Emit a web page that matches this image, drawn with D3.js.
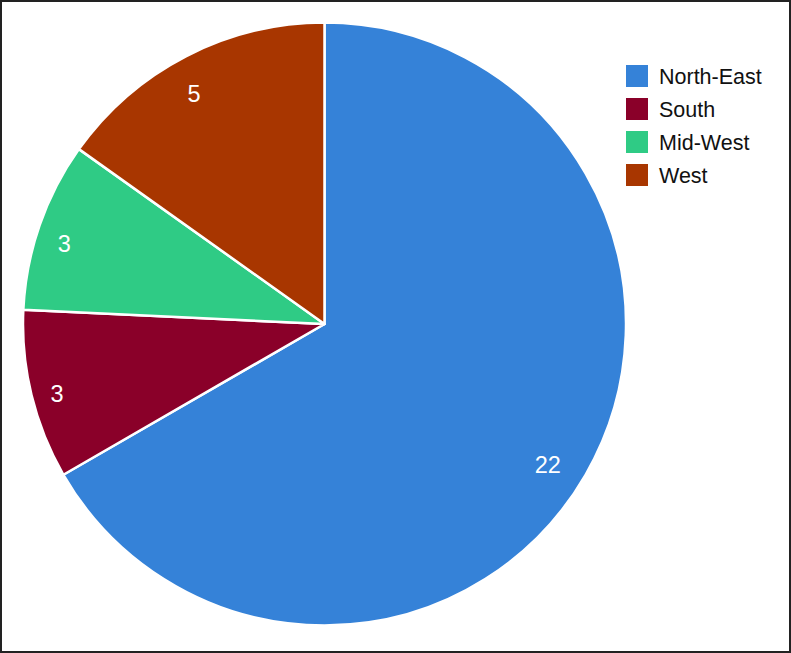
<!DOCTYPE html>
<html>
<head>
<meta charset="utf-8">
<script src="https://cdn.jsdelivr.net/npm/d3@7"></script>
<style>
  body { margin: 0; background: #fff; }
  svg { display: block; font-family: "Liberation Sans", Arial, sans-serif; }
</style>
</head>
<body>
<div class="chart"></div>
<script>
var svgWidth = 791;
var svgHeight = 653;

// data
var regions = ["North-East", "South", "Mid-West", "West"];
var counts = [22, 3, 3, 5];
var colors = ["#3582d8", "#8a0029", "#2fcb85", "#a83600"];

var cx = 324.5, cy = 324, radius = 301.5;

var svg = d3.select(".chart")
  .append("svg")
  .attr("width", svgWidth)
  .attr("height", svgHeight);

// outer frame
svg.append("rect")
  .attr("x", 1).attr("y", 1)
  .attr("width", svgWidth - 2).attr("height", svgHeight - 2)
  .attr("fill", "#fff")
  .attr("stroke", "#222")
  .attr("stroke-width", 2);

var data = regions.map(function(r, i) { return { region: r, value: counts[i], color: colors[i] }; });

var pie = d3.pie().sort(null).value(d => d.value);
var arc = d3.arc().innerRadius(0).outerRadius(radius);
var labelArc = d3.arc().innerRadius(267).outerRadius(267);

var pieGroup = svg.append("g")
  .attr("transform", `translate(${cx}, ${cy})`);

var arcs = pie(data);

pieGroup.selectAll("path")
  .data(arcs)
  .enter()
  .append("path")
  .attr("d", arc)
  .attr("fill", d => d.data.color)
  .attr("stroke", "#fff")
  .attr("stroke-width", 2.5)
  .attr("stroke-linejoin", "round");

// labels sit a little left of and below the slice centroid
pieGroup.selectAll(".slice-label")
  .data(arcs)
  .enter()
  .append("text")
  .classed("slice-label", true)
  .attr("transform", d => `translate(${labelArc.centroid(d)})`)
  .attr("x", -8)
  .attr("y", 7)
  .attr("text-anchor", "middle")
  .attr("dy", "0.36em")
  .attr("font-size", "23.5px")
  .attr("fill", "#fff")
  .text(d => d.data.value);

// legend
var legend = svg.append("g")
  .attr("transform", "translate(626, 65)");

var rows = legend.selectAll("g")
  .data(data)
  .enter()
  .append("g")
  .attr("transform", (d, i) => `translate(0, ${i * 33})`);

rows.append("rect")
  .attr("width", 22)
  .attr("height", 22)
  .attr("fill", d => d.color);

rows.append("text")
  .attr("x", 33)
  .attr("y", 18.5)
  .attr("font-size", "21.5px")
  .attr("fill", "#111")
  .text(d => d.region);
</script>
</body>
</html>
